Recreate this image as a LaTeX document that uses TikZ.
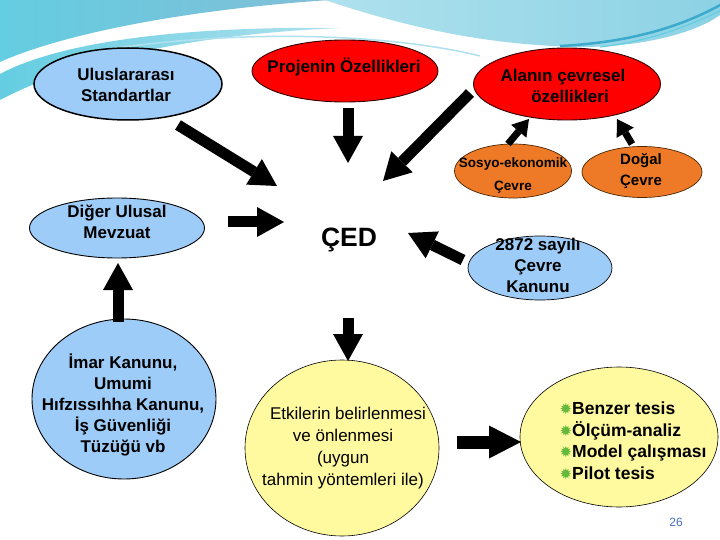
\documentclass[tikz,border=0pt]{standalone}
\usepackage{fontspec}
\setmainfont{Liberation Sans}
\newfontfamily\dejavu{DejaVu Sans}
\usetikzlibrary{shapes.geometric,arrows.meta,calc}
\definecolor{lblue}{RGB}{158,204,248}
\definecolor{redf}{RGB}{255,0,0}
\definecolor{orangef}{RGB}{238,122,40}
\definecolor{yellowf}{RGB}{255,250,160}
\definecolor{bgreen}{RGB}{100,185,60}
\definecolor{numblue}{RGB}{70,110,190}
\definecolor{skyA}{RGB}{130,190,215}
\definecolor{skyB}{RGB}{100,205,225}
\definecolor{skyC}{RGB}{175,225,238}
\definecolor{skyD}{RGB}{140,210,228}
\definecolor{streak}{RGB}{60,170,205}
\newcommand{\starbul}{{\dejavu\fontsize{15}{15}\selectfont\color{bgreen}✹}}
\begin{document}
\begin{tikzpicture}[x=1pt,y=-1pt,
  elli/.style={ellipse, draw=black, line width=0.9pt, inner sep=0pt},
  txtb/.style={font=\bfseries\fontsize{17}{21}\selectfont, align=center, inner sep=0pt},
  txtr/.style={font=\fontsize{17}{22}\selectfont, align=center, inner sep=0pt},
  bigarrow/.style={line width=11pt, -{Triangle[width=30pt,length=27pt,line width=0pt]}},
  smallarrow/.style={line width=7pt, -{Triangle[width=20pt,length=16pt,line width=0pt]}}
]
\useasboundingbox (0,0) rectangle (720,540);
\fill[white] (0,0) rectangle (720,540);

% background swooshes
\shade[left color=skyB, right color=skyA]
  (0,0) -- (330,0) .. controls (180,10) and (60,35) .. (0,62) -- cycle;
\shade[left color=skyB, right color=skyC]
  (0,74) .. controls (60,42) and (180,26) .. (340,28) .. controls (200,34) and (80,58) .. (0,100) -- cycle;
\draw[skyC, line width=1.5pt] (90,52) .. controls (250,26) and (400,36) .. (480,56);
\shade[left color=skyC, right color=skyD]
  (325,0) .. controls (400,25) and (480,45) .. (580,47) .. controls (650,47) and (700,30) .. (720,15) -- (720,0) -- cycle;
\draw[streak, line width=2.5pt] (560,46) .. controls (640,42) and (690,22) .. (722,4);
\draw[skyB, line width=1.2pt] (600,47) .. controls (660,40) and (700,20) .. (722,10);

% ellipses
\node[elli, fill=lblue, line width=1.5pt, minimum width=188pt, minimum height=72pt] (ulus) at (128,84) {};
\node[elli, fill=redf, draw=black!80!red, minimum width=186pt, minimum height=62pt] (proj) at (345,71) {};
\node[elli, fill=redf, draw=black!80!red, minimum width=187pt, minimum height=72pt] (alan) at (567,84) {};
\node[elli, fill=orangef, draw=black!70!orange, line width=0.7pt, minimum width=117pt, minimum height=54pt] (sosyo) at (513,171) {};
\node[elli, fill=orangef, draw=black!70!orange, line width=0.7pt, minimum width=120pt, minimum height=51pt] (dogal) at (642,172) {};
\node[elli, fill=lblue, minimum width=175pt, minimum height=60pt] (diger) at (117,228) {};
\node[elli, fill=lblue, minimum width=184pt, minimum height=160pt] (imar) at (124,399) {};
\node[elli, fill=lblue, line width=0.7pt, minimum width=144pt, minimum height=64pt] (kanun) at (540,268) {};
\node[elli, fill=yellowf, line width=0.6pt, minimum width=194pt, minimum height=176pt] (etki) at (342,448) {};
\node[elli, fill=yellowf, line width=0.6pt, minimum width=198pt, minimum height=140pt] (benzer) at (619,437) {};

% texts
\node[txtb] (ulus-t) at (126,85) {Uluslararası\\Standartlar};
\node[txtb] (proj-t) at (344,67) {Projenin Özellikleri};
\node[txtb] (alan-t) at (563,86) {Alanın çevresel\\\hspace*{14pt}özellikleri};
\node[font=\bfseries\fontsize{13.5}{23}\selectfont, align=center, inner sep=0pt] (sosyo-t) at (513,176) {Sosyo-ekonomik\\Çevre};
\node[font=\bfseries\fontsize{15}{21}\selectfont, align=center, inner sep=0pt] (dogal-t) at (641,171) {Doğal\\Çevre};
\node[font=\bfseries\fontsize{26.5}{30}\selectfont, inner sep=0pt, anchor=base] (ced) at (349,247) {ÇED};
\node[txtb] (kanun-t) at (538,265) {2872 sayılı\\Çevre\\Kanunu};
\node[txtb] (diger-t) at (117,222) {Diğer Ulusal\\Mevzuat};
\node[txtb] (imar-t) at (123,405) {İmar Kanunu,\\Umumi\\Hıfzıssıhha Kanunu,\\İş Güvenliği\\Tüzüğü vb};
\node[txtr] (etki-t) at (343,448) {\hspace*{10pt}Etkilerin belirlenmesi\\ve önlenmesi\\(uygun\\tahmin yöntemleri ile)};
\node[font=\bfseries\fontsize{17.5}{21.5}\selectfont, align=left, inner sep=0pt] (benzer-t) at (633,441)
  {\starbul Benzer tesis\\
   \starbul Ölçüm-analiz\\
   \starbul Model çalışması\\
   \starbul Pilot tesis};
\node[font=\fontsize{12}{14}\selectfont, text=numblue, inner sep=0pt] (num) at (676,522) {26};

% arrow end points
\coordinate (ulus-o) at (178,125);
\coordinate (ced-a) at (277,186);
\coordinate (proj-o) at (348,108);
\coordinate (ced-b) at (348,163);
\coordinate (alan-o) at (470,93);
\coordinate (ced-c) at (383,181);
\coordinate (sosyo-o) at (508,144);
\coordinate (alan-a) at (529,119);
\coordinate (dogal-o) at (632,144);
\coordinate (alan-b) at (617,119);
\coordinate (kanun-o) at (463,260);
\coordinate (ced-d) at (408,233);
\coordinate (diger-o) at (228,222);
\coordinate (ced-e) at (284,222);
\coordinate (imar-o) at (118,322);
\coordinate (diger-a) at (118,263);
\coordinate (ced-o) at (348,318);
\coordinate (etki-a) at (348,361);
\coordinate (etki-o) at (457,442);
\coordinate (benzer-a) at (521,442);

% arrows
\draw[bigarrow] (ulus-o) -- (ced-a);
\draw[bigarrow] (proj-o) -- (ced-b);
\draw[bigarrow] (alan-o) -- (ced-c);
\draw[smallarrow] (sosyo-o) -- (alan-a);
\draw[smallarrow] (dogal-o) -- (alan-b);
\draw[bigarrow] (kanun-o) -- (ced-d);
\draw[bigarrow] (diger-o) -- (ced-e);
\draw[bigarrow] (imar-o) -- (diger-a);
\draw[bigarrow] (ced-o) -- (etki-a);
\draw[bigarrow, line width=13pt, -{Triangle[width=33pt,length=32pt,line width=0pt]}] (etki-o) -- (benzer-a);
\end{tikzpicture}
\end{document}
